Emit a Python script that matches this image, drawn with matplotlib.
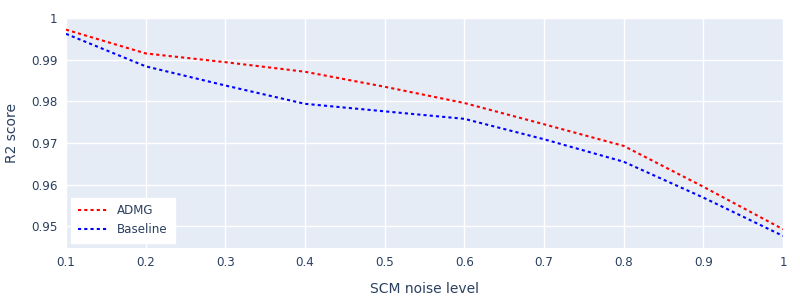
import matplotlib
matplotlib.use("Agg")
import matplotlib.pyplot as plt

noise = [0.1, 0.2, 0.3, 0.4, 0.5, 0.6, 0.7, 0.8, 0.9, 1.0]
admg = [0.9972, 0.9915, 0.9894, 0.9871, 0.9835, 0.9796, 0.9745, 0.9693, 0.9595, 0.9493]
baseline = [0.9962, 0.9884, 0.9838, 0.9794, 0.9776, 0.9758, 0.9709, 0.9655, 0.9569, 0.9477]
xticks = [0.1, 0.2, 0.3, 0.4, 0.5, 0.6, 0.7, 0.8, 0.9, 1.0]
xticklabels = ["0.1", "0.2", "0.3", "0.4", "0.5", "0.6", "0.7", "0.8", "0.9", "1"]
yticks = [0.95, 0.96, 0.97, 0.98, 0.99, 1.0]
yticklabels = ["0.95", "0.96", "0.97", "0.98", "0.99", "1"]

plt.rcParams['font.family'] = ['DejaVu Sans']
txt = '#2a3f5f'

fig = plt.figure(figsize=(8, 3), dpi=100)
ax = fig.add_axes([66/800, 52/300, (783-66)/800, (248-18)/300])
ax.set_facecolor('#E5ECF6')
for s in ax.spines.values():
    s.set_visible(False)

ax.plot(noise, admg, color='red', lw=1.5, linestyle=(0, (1.5, 1.5)), label='ADMG')
ax.plot(noise, baseline, color='blue', lw=1.5, linestyle=(0, (1.5, 1.5)), label='Baseline')

ax.set_xlim(0.1, 1.0)
ax.set_ylim(0.9448, 1.0)
ax.set_xticks(xticks)
ax.set_xticklabels(xticklabels)
ax.set_yticks(yticks)
ax.set_yticklabels(yticklabels)
ax.grid(True, color='white', lw=1)
ax.set_axisbelow(True)
ax.tick_params(length=0, colors=txt, labelsize=8.6, pad=6)

ax.set_xlabel('SCM noise level', color=txt, fontsize=10)
ax.set_ylabel('R2 score', color=txt, fontsize=10)
ax.xaxis.set_label_coords(0.5, -0.148)
ax.yaxis.set_label_coords(-0.066, 0.5)

leg = ax.legend(loc='lower left', bbox_to_anchor=(0.0, 0.0), frameon=True, fancybox=False,
                fontsize=8.6, handlelength=2.6, handletextpad=0.7, borderpad=0.55, labelspacing=0.5,
                borderaxespad=0.45)
leg.get_frame().set_facecolor('white')
leg.get_frame().set_edgecolor('white')
leg.get_frame().set_alpha(1)
for t in leg.get_texts():
    t.set_color(txt)

fig.savefig('out.png', dpi=100)
